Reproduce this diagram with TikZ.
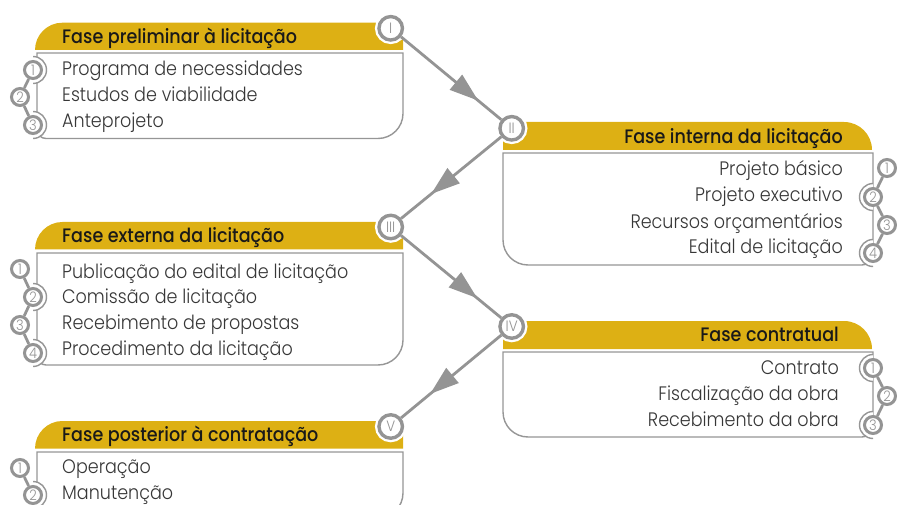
\documentclass[tikz,border=0pt]{standalone}
\usepackage{fontspec}
\usetikzlibrary{arrows.meta,decorations.markings}
\newfontfamily\lightfam{Poppins Light}[FakeStretch=0.9]
\newfontfamily\hdrfam{Poppins Medium}[FakeStretch=0.9]
\definecolor{gold}{RGB}{221,176,20}
\definecolor{ring}{RGB}{148,148,148}
\definecolor{boxgray}{RGB}{150,150,150}
\definecolor{hdrtext}{RGB}{25,25,25}
\definecolor{itemtext}{RGB}{55,55,55}
\newcommand\phdr{\hdrfam\fontsize{19.5}{19.5}\selectfont}
\newcommand\pitem{\lightfam\fontsize{19.5}{19.5}\selectfont}
\newcommand\pnum{\lightfam\fontsize{14.5}{14.5}\selectfont}
\newcommand\prom{\lightfam\fontsize{15}{15}\selectfont}
\tikzset{
  htxt/.style={anchor=base west, inner sep=0pt, text=hdrtext, font=\phdr},
  htxtr/.style={htxt, anchor=base east},
  itxt/.style={anchor=base west, inner sep=0pt, text=itemtext, font=\pitem},
  itxtr/.style={itxt, anchor=base east},
  num/.style={circle, draw=ring, line width=3pt, fill=white, minimum size=17pt, inner sep=0pt, font=\pnum, text=ring},
  roman/.style={circle, draw=ring, line width=3.4pt, fill=white, minimum size=23.5pt, inner sep=0pt, font=\prom, text=ring, preaction={draw=white, line width=8pt}},
  outline/.style={draw=boxgray, line width=1.4pt, fill=white},
  halo/.style={draw=boxgray, line width=1.4pt, fill=white},
  chainln/.style={draw=ring, line width=2.8pt},
  flow/.style={draw=ring, line width=2.8pt, postaction={decorate},
    decoration={markings, mark=at position #1 with {\arrow[ring]{Triangle[length=29pt,width=19pt]}}}}
}
\begin{document}
\begin{tikzpicture}[x=1pt,y=-1pt]
\useasboundingbox (0,0) rectangle (897,505);
\clip (0,0) rectangle (897,505);
% ---------- headers ----------
\fill[gold] (35,50) .. controls (35,35) and (47.2,22.7) .. (62.3,22.7) -- (403,22.7) -- (403,50) -- cycle;
\fill[gold] (503,150) -- (503,122) -- (844,122) .. controls (859.5,122) and (872,134.5) .. (872,150) -- cycle;
\fill[gold] (35,249.5) .. controls (35,234.5) and (47.2,222) .. (62.3,222) -- (403,222) -- (403,249.5) -- cycle;
\fill[gold] (503,349) -- (503,321) -- (844,321) .. controls (859.5,321) and (872,333.5) .. (872,349) -- cycle;
\fill[gold] (35,448.5) .. controls (35,433.5) and (47.2,421) .. (62.3,421) -- (403,421) -- (403,448.5) -- cycle;
% ---------- white boxes ----------
\path[outline] (37,53) -- (403,53) -- (403,113.5) .. controls (403,127.3) and (391.8,138.5) .. (378,138.5) -- (46,138.5) .. controls (41,138.5) and (37,134.5) .. (37,129.5) -- cycle;
\path[outline] (873,153) -- (503,153) -- (503,240) .. controls (503,253.8) and (514.2,265) .. (528,265) -- (862,265) .. controls (867,265) and (873,261) .. (873,256) -- cycle;
\path[outline] (37,253) -- (403,253) -- (403,340) .. controls (403,353.8) and (391.8,365) .. (378,365) -- (46,365) .. controls (41,365) and (37,361) .. (37,356) -- cycle;
\path[outline] (873,352) -- (503,352) -- (503,412) .. controls (503,425.8) and (514.2,437) .. (528,437) -- (862,437) .. controls (867,437) and (873,433) .. (873,428) -- cycle;
\path[outline] (37,452) -- (403,452) -- (403,493) .. controls (403,506.8) and (391.8,518) .. (378,518) -- (46,518) .. controls (41,518) and (37,514) .. (37,509) -- cycle;
% ---------- halos where circles sit on the border ----------
\foreach \yy in {70,125,297,353,495} {
  \begin{scope}\clip (33,\yy-16) rectangle (50,\yy+16);
  \path[halo] (33,\yy) circle[radius=13.5pt];\end{scope}}
\foreach \yy in {197,253,368,425} {
  \begin{scope}\clip (873,\yy-16) rectangle (855,\yy+16);
  \path[halo] (873,\yy) circle[radius=13.5pt];\end{scope}}
% ---------- texts ----------
\node[htxt] (aH) at (62,43.5) {Fase preliminar à licitação};
\node[itxt] (a1t) at (62,76) {Programa de necessidades};
\node[itxt] (a2t) at (62,102) {Estudos de viabilidade};
\node[itxt] (a3t) at (62,128) {Anteprojeto};
\node[htxtr] (bH) at (843,143.3) {Fase interna da licitação};
\node[itxtr] (b1t) at (843,176) {Projeto básico};
\node[itxtr] (b2t) at (843,201.7) {Projeto executivo};
\node[itxtr] (b3t) at (843,228.3) {Recursos orçamentários};
\node[itxtr] (b4t) at (843,253.3) {Edital de licitação};
\node[htxt] (cH) at (62,242.7) {Fase externa da licitação};
\node[itxt] (c1t) at (62,278.3) {Publicação do edital de licitação};
\node[itxt] (c2t) at (62,303.3) {Comissão de licitação};
\node[itxt] (c3t) at (62,329.3) {Recebimento de propostas};
\node[itxt] (c4t) at (62,355) {Procedimento da licitação};
\node[htxtr] (dH) at (839,341.7) {Fase contratual};
\node[itxtr] (d1t) at (839,374) {Contrato};
\node[itxtr] (d2t) at (839,400) {Fiscalização da obra};
\node[itxtr] (d3t) at (839,426) {Recebimento da obra};
\node[htxt] (eH) at (62,441) {Fase posterior à contratação};
\node[itxt] (e1t) at (62,473.3) {Operação};
\node[itxt] (e2t) at (62,499.3) {Manutenção};
% ---------- number circles ----------
\node[num] (a1) at (33,70) {1};
\node[num] (a2) at (20,97) {2};
\node[num] (a3) at (33,125) {3};
\node[num] (b1) at (887,168) {1};
\node[num] (b2) at (873,197) {2};
\node[num] (b3) at (887,225) {3};
\node[num] (b4) at (873,253) {4};
\node[num] (c1) at (20,269) {1};
\node[num] (c2) at (33,297) {2};
\node[num] (c3) at (20,325) {3};
\node[num] (c4) at (33,353) {4};
\node[num] (d1) at (873,368) {1};
\node[num] (d2) at (887,396) {2};
\node[num] (d3) at (873,425) {3};
\node[num] (e1) at (20,468) {1};
\node[num] (e2) at (33,495) {2};
\draw[chainln] (a1) -- (a2); \draw[chainln] (a2) -- (a3);
\draw[chainln] (b1) -- (b2); \draw[chainln] (b2) -- (b3); \draw[chainln] (b3) -- (b4);
\draw[chainln] (c1) -- (c2); \draw[chainln] (c2) -- (c3); \draw[chainln] (c3) -- (c4);
\draw[chainln] (d1) -- (d2); \draw[chainln] (d2) -- (d3);
\draw[chainln] (e1) -- (e2);
% ---------- phase circles ----------
\node[roman] (I) at (390.7,28.3) {I};
\node[roman] (II) at (511.7,128.3) {II};
\node[roman] (III) at (390.7,227) {III};
\node[roman] (IV) at (511.7,326.5) {IV};
\node[roman] (V) at (390.7,426.5) {V};
\draw[flow=0.77] (I) -- (II);
\draw[flow=0.70] (II) -- (III);
\draw[flow=0.76] (III) -- (IV);
\draw[flow=0.71] (IV) -- (V);
\end{tikzpicture}
\end{document}
